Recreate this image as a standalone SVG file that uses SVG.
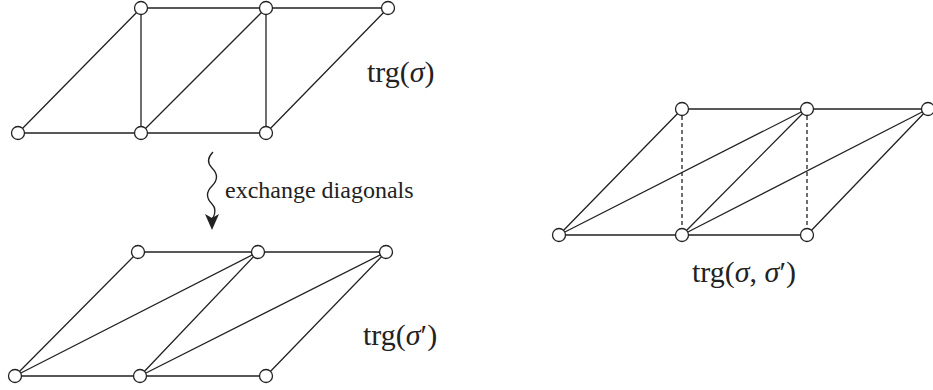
<svg xmlns="http://www.w3.org/2000/svg" width="933" height="390" viewBox="0 0 933 390">
<defs>
<style>
.e{stroke:#222;stroke-width:1.3;fill:none}
.d{stroke:#222;stroke-width:1.3;fill:none;stroke-dasharray:4,3}
.n{fill:#fff;stroke:#222;stroke-width:1.3}
.t{font-family:"Liberation Serif","Times New Roman",serif;fill:#222}
.lab{font-size:30px}
.s{font-style:italic}
</style>
</defs>
<rect width="933" height="390" fill="#fff"/>
<g id="connectors">
<path class="e" d="M141,8H388M18,133H266M18,133L141,8M141,133L266,8M266,133L388,8M141,8V133M266,8V133"/>
<path class="e" d="M138,252H386M15,376H266M15,376L138,252M15,376L258,252M140,376L258,252M140,376L386,252M266,376L386,252"/>
<path class="e" d="M682,109H928M559,235H807M559,235L682,109M559,235L807,109M682,235L807,109M682,235L928,109M807,235L928,109"/>
<path class="d" d="M682,109V235M807,109V235"/>
<path class="e" d="M213,152 C207,158 207,163 212,168 C218,174 218,180 212,186 C206,192 206,198 212,204 C216,208 216,212 213,218 L212,218" stroke-width="1.4"/>
<path d="M205,214 L212,230 L219,214 L212,218 z" fill="#222"/>
</g>
<g id="top-graph-nodes">
<circle class="n" cx="141" cy="8" r="6.5"/>
<circle class="n" cx="266" cy="8" r="6.5"/>
<circle class="n" cx="388" cy="8" r="6.5"/>
<circle class="n" cx="18" cy="133" r="6.5"/>
<circle class="n" cx="141" cy="133" r="6.5"/>
<circle class="n" cx="266" cy="133" r="6.5"/>
</g>
<g id="bottom-graph-nodes">
<circle class="n" cx="138" cy="252" r="6.5"/>
<circle class="n" cx="258" cy="252" r="6.5"/>
<circle class="n" cx="386" cy="252" r="6.5"/>
<circle class="n" cx="15" cy="376" r="6.5"/>
<circle class="n" cx="140" cy="376" r="6.5"/>
<circle class="n" cx="266" cy="376" r="6.5"/>
</g>
<g id="right-graph-nodes">
<circle class="n" cx="682" cy="109" r="6.5"/>
<circle class="n" cx="807" cy="109" r="6.5"/>
<circle class="n" cx="928" cy="109" r="6.5"/>
<circle class="n" cx="559" cy="235" r="6.5"/>
<circle class="n" cx="682" cy="235" r="6.5"/>
<circle class="n" cx="807" cy="235" r="6.5"/>
</g>
<g id="labels">
<text class="t lab" x="367" y="82">trg(<tspan class="s">σ</tspan>)</text>
<text class="t" x="225" y="198" font-size="24">exchange diagonals</text>
<text class="t lab" x="363" y="345">trg(<tspan class="s">σ</tspan>′)</text>
<text class="t lab" x="692" y="282">trg(<tspan class="s">σ</tspan>, <tspan class="s">σ</tspan>′)</text>
</g>
</svg>
